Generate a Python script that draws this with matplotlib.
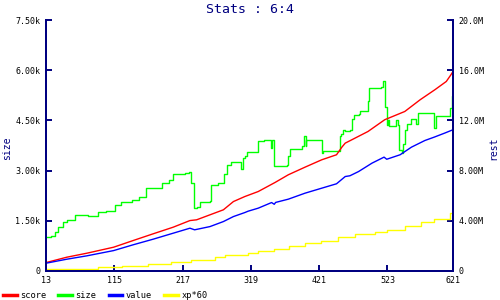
import matplotlib
matplotlib.use('Agg')
import matplotlib.pyplot as plt

navy = '#000080'
plt.rcParams['font.family'] = 'DejaVu Sans Mono'

# size (left axis, units)
size_x = [13, 20, 26, 31, 39, 45, 56, 76, 91, 102, 116, 125, 141, 152, 163, 186, 196, 203, 220, 226,
          230, 234, 238, 243, 258, 260, 270, 279, 283, 290, 303, 305, 307, 310, 314, 330, 338, 349, 351,
          354, 373, 375, 377, 393, 396, 399, 401, 402, 424, 426, 427, 447, 452, 454, 456, 460, 467, 470,
          473, 480, 482, 491, 494, 496, 514, 516, 519, 520, 522, 524, 526, 534, 536, 538, 539, 541, 544,
          545, 547, 550, 552, 557, 559, 564, 566, 569, 590, 592, 593, 595, 596, 614, 617, 619, 621]
size_y = [1000, 1040, 1170, 1300, 1470, 1520, 1660, 1640, 1770, 1800, 1970, 2070, 2120, 2200, 2470, 2640,
          2720, 2890, 2920, 2970, 2630, 1870, 1910, 2070, 2100, 2570, 2620, 2900, 3170, 3270, 3270, 3060,
          3380, 3440, 3550, 3890, 3920, 3670, 3920, 3150, 3160, 3440, 3640, 3640, 3750, 4020, 3750, 3920,
          3920, 3520, 3580, 3580, 4020, 4100, 4200, 4190, 4200, 4540, 4670, 4700, 4770, 4770, 5080, 5470,
          5500, 5670, 5670, 4900, 4370, 4520, 4340, 4340, 4520, 4520, 4370, 3620, 3620, 3520, 3800, 4200,
          4400, 4400, 4550, 4550, 4400, 4720, 4720, 4500, 4270, 4500, 4620, 4620, 4870, 5220, 5220]

# score (right axis, millions)
score_x = [13, 44, 74, 114, 143, 173, 203, 228, 238, 258, 278, 293, 310, 330, 355, 375, 400, 425, 447,
           455, 460, 467, 494, 519, 549, 572, 594, 611, 618, 621]
score_y = [0.64, 1.07, 1.39, 1.87, 2.40, 2.94, 3.47, 4.00, 4.06, 4.46, 4.86, 5.52, 5.92, 6.32, 7.04, 7.66,
           8.27, 8.86, 9.26, 9.87, 10.19, 10.38, 11.12, 12.06, 12.72, 13.66, 14.46, 15.12, 15.66, 15.92]

# value (right axis, millions)
value_x = [13, 44, 74, 114, 143, 173, 203, 228, 235, 258, 278, 293, 310, 315, 330, 350, 354, 356, 375,
           400, 425, 447, 460, 467, 480, 500, 518, 522, 542, 559, 579, 593, 609, 621]
value_y = [0.59, 0.91, 1.18, 1.60, 2.06, 2.51, 2.99, 3.39, 3.26, 3.52, 3.92, 4.32, 4.64, 4.75, 4.99, 5.44,
           5.30, 5.45, 5.71, 6.19, 6.59, 6.94, 7.52, 7.58, 7.92, 8.59, 9.07, 8.90, 9.26, 9.87, 10.40,
           10.67, 11.00, 11.26]

# xp*60 (right axis, millions)
xp_x = [13, 90, 127, 166, 200, 230, 266, 280, 315, 329, 353, 376, 400, 424, 449, 474, 505, 523, 550,
        573, 593, 616, 621]
xp_y = [0.14, 0.27, 0.37, 0.51, 0.67, 0.85, 1.07, 1.25, 1.39, 1.60, 1.74, 2.00, 2.19, 2.38, 2.72, 2.91,
        3.12, 3.26, 3.58, 3.92, 4.11, 4.59, 4.72]

xticks = [13, 115, 217, 319, 421, 523, 621]
left_ticks = [0, 1500, 3000, 4500, 6000, 7500]
left_labels = ['0', '1.50k', '3.00k', '4.50k', '6.00k', '7.50k']
right_ticks = [0, 4, 8, 12, 16, 20]
right_labels = ['0', '4.00M', '8.00M', '12.0M', '16.0M', '20.0M']

fig = plt.figure(figsize=(5, 3), dpi=100)
ax = fig.add_axes([0.092, 0.098, 0.814, 0.834])
ax2 = ax.twinx()

l_size, = ax.plot(size_x, size_y, color='#00ff00', lw=1, drawstyle='steps-post', label='size')
l_score, = ax2.plot(score_x, score_y, color='#ff0000', lw=1, label='score')
l_value, = ax2.plot(value_x, value_y, color='#0000ff', lw=1, label='value')
l_xp, = ax2.plot(xp_x, xp_y, color='#ffff00', lw=1, drawstyle='steps-post', label='xp*60')

ax.set_xlim(13, 621)
ax.set_ylim(0, 7500)
ax2.set_ylim(0, 20)
ax.set_xticks(xticks)
ax.set_yticks(left_ticks)
ax.set_yticklabels(left_labels)
ax2.set_yticks(right_ticks)
ax2.set_yticklabels(right_labels)

for a in (ax, ax2):
  a.spines['top'].set_visible(False)
  for s in ('left', 'right', 'bottom'):
    a.spines[s].set_color(navy)
    a.spines[s].set_linewidth(1.4)
  a.tick_params(direction='in', length=4, width=1.4, color=navy, labelsize=6, pad=4)

ax.set_ylabel('size', color=navy, fontsize=7)
ax.yaxis.set_label_coords(-0.084, 0.49)
ax2.set_ylabel('rest', color=navy, fontsize=7, rotation=90)
ax2.yaxis.set_label_coords(1.086, 0.49)
fig.suptitle('Stats : 6:4', color=navy, fontsize=9.5, y=0.99)

fig.legend(handles=[l_score, l_size, l_value, l_xp], loc='lower left', bbox_to_anchor=(-0.01, -0.025),
           ncol=4, frameon=False, fontsize=6.2, handlelength=1.6, handletextpad=0.4, columnspacing=1.4)
for line in fig.legends[0].get_lines():
  line.set_linewidth(2.5)

fig.savefig('out.png', dpi=100)
